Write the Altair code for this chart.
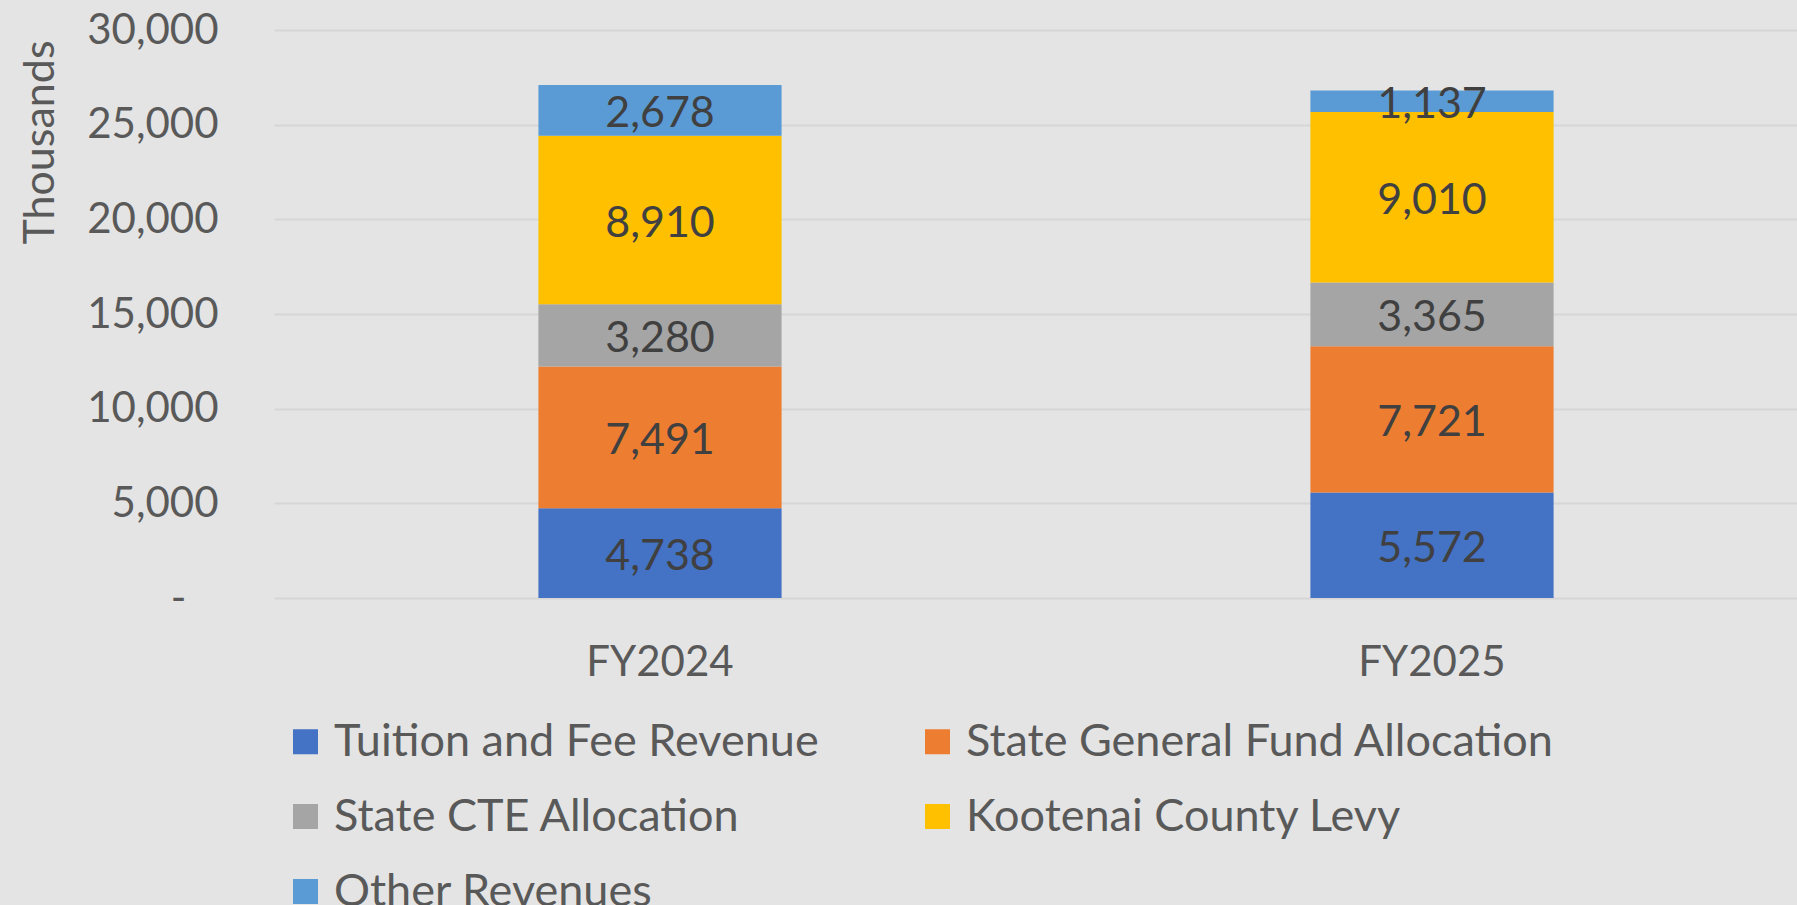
import altair as alt
import pandas as pd

years = ["FY2024", "FY2025"]
categories = [
    "Tuition and Fee Revenue",
    "State General Fund Allocation",
    "State CTE Allocation",
    "Kootenai County Levy",
    "Other Revenues",
]
fy2024 = [4738, 7491, 3280, 8910, 2678]
fy2025 = [5572, 7721, 3365, 9010, 1137]
colors = ["#4472C4", "#ED7D31", "#A5A5A5", "#FFC000", "#5B9BD5"]
y_ticks = [0, 5000, 10000, 15000, 20000, 25000, 30000]

rows = []
for yr, vals in zip(years, [fy2024, fy2025]):
    for i, (c, v) in enumerate(zip(categories, vals)):
        rows.append({"year": yr, "category": c, "value": v, "order": i})
df = pd.DataFrame(rows)

FONT = "Lato"
LABEL_COLOR = "#595959"

x_enc = alt.X(
    "year:N",
    sort=years,
    scale=alt.Scale(range=[0, 1544], paddingInner=0.685, paddingOuter=0.3425),
    axis=alt.Axis(
        title=None, labelAngle=0, ticks=False, domain=False,
        labelFont=FONT, labelFontSize=42, labelColor=LABEL_COLOR,
        labelPadding=44,
    ),
)

y_scale = alt.Scale(domain=[0, 30000], nice=False)

bars = alt.Chart(df).mark_bar().encode(
    x=x_enc,
    y=alt.Y(
        "value:Q",
        stack="zero",
        scale=y_scale,
        axis=alt.Axis(
            values=y_ticks,
            labelExpr="datum.value == 0 ? '-\u00a0\u00a0\u00a0\u200b' : format(datum.value, ',.0f')",
            title="Thousands", titleFont=FONT, titleFontSize=43, titleFontWeight="normal",
            titleColor=LABEL_COLOR, titleAngle=270, titleX=-234, titleY=112,
            titleAlign="center", titleBaseline="middle",
            labelFont=FONT, labelFontSize=42, labelColor=LABEL_COLOR,
            labelPadding=56, ticks=False, domain=False,
            grid=True, gridColor="#D6D6D6", gridWidth=2,
        ),
    ),
    color=alt.Color(
        "category:N",
        scale=alt.Scale(domain=categories, range=colors),
        legend=alt.Legend(
            title=None, orient="none", legendX=9, legendY=689,
            direction="horizontal",
            columns=2, symbolType="square", symbolSize=625,
            symbolStrokeWidth=0, labelFont=FONT, labelFontSize=45,
            labelColor=LABEL_COLOR, labelOffset=6, rowPadding=29,
            columnPadding=96, labelLimit=0, padding=0,
        ),
    ),
    order=alt.Order("order:Q", sort="ascending"),
)

labels = alt.Chart(df).transform_stack(
    stack="value", as_=["v0", "v1"], groupby=["year"],
    sort=[alt.SortField("order", order="ascending")],
).transform_calculate(
    mid="(datum.v0 + datum.v1) / 2"
).mark_text(
    font=FONT, fontSize=43, color="#404040", baseline="middle", align="center", dy=4
).encode(
    x=alt.X("year:N", sort=years),
    y=alt.Y("mid:Q", scale=y_scale),
    text=alt.Text("value:Q", format=",.0f"),
)

chart = alt.layer(bars, labels).properties(
    width=1523, height=568,
    autosize=alt.AutoSizeParams(type="none"),
    padding={"left": 274, "top": 30, "right": 0, "bottom": 307},
    background="#E4E4E4",
).configure_view(stroke=None)

chart.save("out.html", embed_options={"renderer": "svg", "actions": False})
